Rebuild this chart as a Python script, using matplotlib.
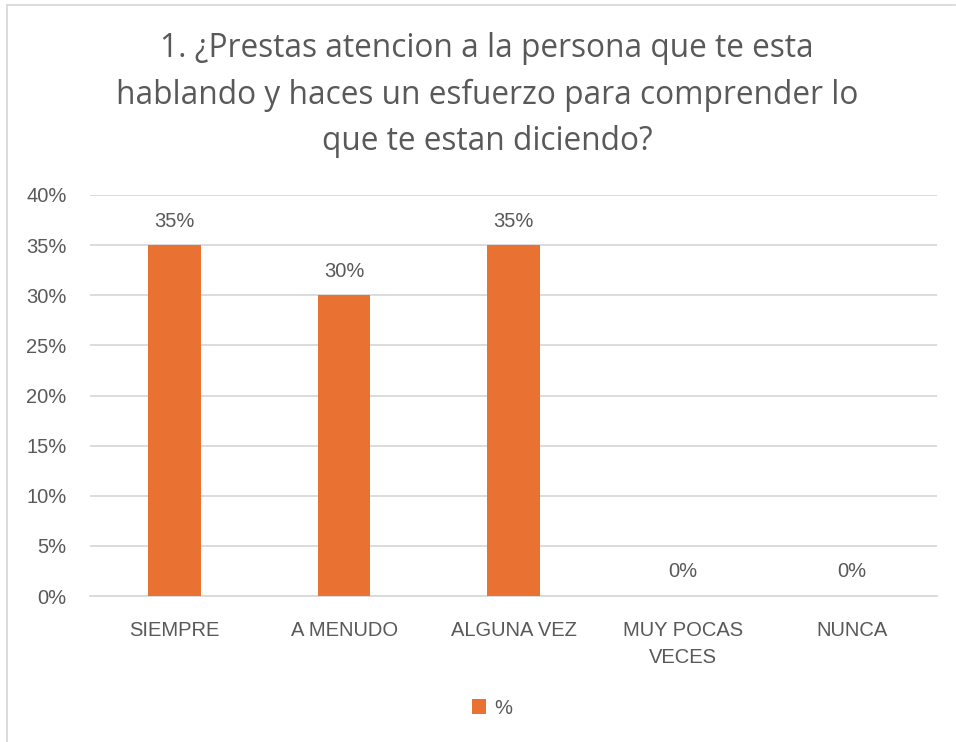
import matplotlib
matplotlib.use("Agg")
import matplotlib.pyplot as plt
from matplotlib.lines import Line2D

categories = ["SIEMPRE", "A MENUDO", "ALGUNA VEZ", "MUY POCAS\nVECES", "NUNCA"]
values = [35, 30, 35, 0, 0]
yticks = [0, 5, 10, 15, 20, 25, 30, 35, 40]
title = "1. ¿Prestas atencion a la persona que te esta\nhablando y haces un esfuerzo para comprender lo\nque te estan diciendo?"
series_name = "%"

bar_color = "#E97132"
text_color = "#595959"
grid_color = "#D9D9D9"

fig = plt.figure(figsize=(9.56, 7.42), dpi=100)
ax = fig.add_axes([90/956, 1-596/742, (937-90)/956, (596-195)/742])

x = list(range(len(categories)))
bars = ax.bar(x, values, width=0.31, color=bar_color, label=series_name, zorder=3)
for xi, v in zip(x, values):
    ax.text(xi, v + 1.45, f"{v}%", ha="center", va="bottom", fontsize=14.5,
            color=text_color, family="Liberation Sans")

ax.set_xlim(-0.5, len(categories) - 0.5)
ax.set_ylim(0, 40)
ax.set_yticks(yticks)
ax.set_yticklabels([f"{t}%" for t in yticks], family="Liberation Sans", fontsize=14.5, color=text_color)
ax.set_xticks(x)
ax.set_xticklabels(categories, family="Liberation Sans", fontsize=14.5, color=text_color,
                   va="top", linespacing=1.55)
ax.tick_params(axis="y", length=0, pad=17)
ax.tick_params(axis="x", length=0, pad=18)
ax.grid(axis="y", color=grid_color, linewidth=1.3, zorder=0)
for s in ["top", "left", "right"]:
    ax.spines[s].set_visible(False)
ax.spines["bottom"].set_color(grid_color)
ax.spines["bottom"].set_linewidth(1.3)

fig.text(487/956, 1-95/742, title, ha="center", va="center", fontsize=22.8,
         color=text_color, family="Open Sans", linespacing=1.53)

leg = fig.legend(handles=[bars], labels=[series_name], loc="center",
                 bbox_to_anchor=(492/956, 1-708/742), frameon=False,
                 prop={"family": "Liberation Sans", "size": 14.5}, handlelength=0.7,
                 handleheight=0.7, handletextpad=0.4)
for t in leg.get_texts():
    t.set_color(text_color)

# chart border
fig.add_artist(Line2D([7/956, 955/956], [1-5/742, 1-5/742], color=grid_color, lw=1.3, transform=fig.transFigure))
fig.add_artist(Line2D([7/956, 7/956], [0, 1-5/742], color=grid_color, lw=1.3, transform=fig.transFigure))

fig.savefig("out.png", dpi=100)
